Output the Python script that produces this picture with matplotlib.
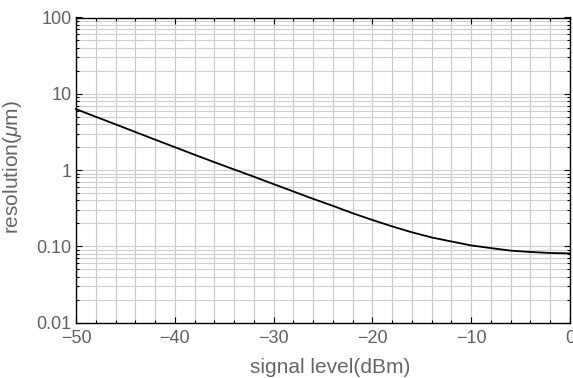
import matplotlib
matplotlib.use("Agg")
import matplotlib.pyplot as plt
from matplotlib.ticker import FixedLocator, FixedFormatter, NullFormatter
import numpy as np

signal_dbm = [-50, -48, -46, -44, -42, -40, -38, -36, -34, -32, -30, -28, -26,
              -24, -22, -20, -18, -16, -14, -12, -10, -8, -6, -4, -2, 0]
resolution_um = [6.3, 5.0, 3.98, 3.16, 2.51, 2.0, 1.59, 1.27, 1.02, 0.82, 0.655,
                 0.525, 0.42, 0.34, 0.272, 0.222, 0.183, 0.153, 0.131, 0.116,
                 0.103, 0.095, 0.088, 0.0845, 0.082, 0.081]

y_ticks = [0.01, 0.1, 1, 10, 100]
y_ticklabels = ["0.01", "0.10", "1", "10", "100"]
x_ticks = [-50, -40, -30, -20, -10, 0]
x_ticklabels = ["\u221250", "\u221240", "\u221230", "\u221220", "\u221210", "0"]

plt.rcParams['font.family'] = ['Liberation Sans', 'DejaVu Sans']
plt.rcParams['mathtext.fontset'] = 'custom'
plt.rcParams['mathtext.rm'] = 'Liberation Sans'
plt.rcParams['mathtext.it'] = 'Liberation Sans:italic'

fig = plt.figure(figsize=(5.73, 3.78), dpi=100)
ax = fig.add_axes([76/573, 1-322.7/378, (570-76)/573, (322.7-17.5)/378])

ax.set_yscale('log')
ax.set_xlim(-50, 0)
ax.set_ylim(0.01, 100)

# grid lines
minor_x = np.arange(-50, 1, 2)
for xv in minor_x:
    ax.axvline(xv, color='#c8c8c8', lw=0.8, zorder=0)
ylines = []
for dec in [0.01, 0.1, 1, 10]:
    for m in range(1, 10):
        ylines.append(dec*m)
ylines.append(100)
for yv in ylines:
    ax.axhline(yv, color='#cdcdcd', lw=0.8, zorder=0)

ax.plot(signal_dbm, resolution_um, color='black', lw=1.3, zorder=3, clip_on=False)

ax.xaxis.set_major_locator(FixedLocator(x_ticks))
ax.xaxis.set_major_formatter(FixedFormatter(x_ticklabels))
ax.xaxis.set_minor_locator(FixedLocator(list(minor_x)))
ax.yaxis.set_major_locator(FixedLocator(y_ticks))
ax.yaxis.set_major_formatter(FixedFormatter(y_ticklabels))
ax.yaxis.set_minor_locator(FixedLocator([v for v in ylines if v not in y_ticks]))
ax.yaxis.set_minor_formatter(NullFormatter())

ax.tick_params(which='both', direction='in', top=True, right=True,
               labelcolor='#606060', labelsize=13, color='black', width=0.8)
ax.tick_params(which='major', length=4.5)
ax.tick_params(axis='x', which='major', pad=5)
ax.tick_params(axis='y', which='major', pad=3)
ax.tick_params(which='minor', length=2.5)

for s in ax.spines.values():
    s.set_linewidth(1.0)
    s.set_color('black')

ax.set_xlabel('signal level(dBm)', color='#666666', fontsize=15)
ax.set_ylabel(r'resolution($\mathit{\mu}$m)', color='#666666', fontsize=15)
ax.xaxis.set_label_coords(0.514, -0.116)
ax.yaxis.set_label_coords(-0.105, 0.51)

fig.savefig('out.png', dpi=100)
